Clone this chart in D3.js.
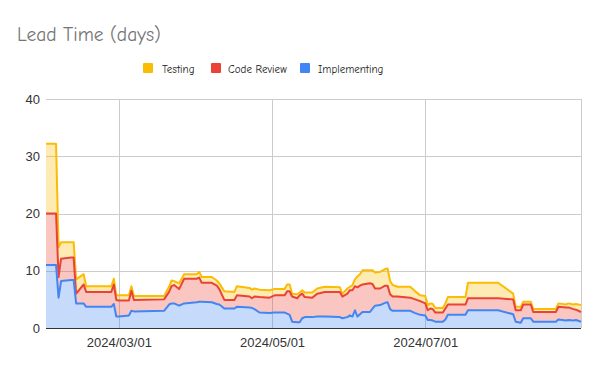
<!DOCTYPE html>
<html>
<head>
<meta charset="utf-8">
<script src="https://cdn.jsdelivr.net/npm/d3@7"></script>
<style>
  html, body { margin: 0; padding: 0; background: #fff; }
  svg { display: block; }
</style>
</head>
<body>
<svg id="chart" width="600" height="371"></svg>
<script>
// ---- Data ----
const dates = [
  "2024-02-01","2024-02-05","2024-02-06","2024-02-07","2024-02-11","2024-02-12","2024-02-13","2024-02-16","2024-02-17",
  "2024-02-27","2024-02-28","2024-02-29","2024-03-01","2024-03-05","2024-03-06","2024-03-07","2024-03-19","2024-03-21",
  "2024-03-22","2024-03-23","2024-03-25","2024-03-27","2024-04-01","2024-04-02","2024-04-03","2024-04-07","2024-04-09",
  "2024-04-10","2024-04-12","2024-04-16","2024-04-17","2024-04-22","2024-04-23","2024-04-24","2024-04-26","2024-04-30",
  "2024-05-02","2024-05-06","2024-05-07","2024-05-08","2024-05-09","2024-05-11","2024-05-12","2024-05-13","2024-05-14",
  "2024-05-17","2024-05-19","2024-05-22","2024-05-28","2024-05-29","2024-05-31","2024-06-01","2024-06-02","2024-06-03",
  "2024-06-04","2024-06-05","2024-06-06","2024-06-09","2024-06-10","2024-06-11","2024-06-13","2024-06-15","2024-06-16",
  "2024-06-17","2024-06-18","2024-06-20","2024-06-25","2024-06-27","2024-06-29","2024-07-01","2024-07-02","2024-07-03",
  "2024-07-04","2024-07-05","2024-07-08","2024-07-09","2024-07-10","2024-07-17","2024-07-18","2024-07-30","2024-08-05",
  "2024-08-06","2024-08-08","2024-08-09","2024-08-12","2024-08-13","2024-08-22","2024-08-23","2024-08-26","2024-08-27",
  "2024-08-29","2024-08-30","2024-09-01"
];
const implementing = [
  11.0,11.0,5.3,8.2,8.4,8.4,4.3,4.3,3.7,
  3.7,4.2,2.0,2.0,2.2,3.0,2.9,3.0,4.1,
  4.3,4.3,3.9,4.3,4.5,4.6,4.6,4.5,4.2,
  4.1,3.4,3.4,3.7,3.6,3.5,3.3,2.7,2.6,
  2.7,2.7,2.5,2.3,1.1,1.0,1.0,1.7,1.9,
  1.9,2.0,2.0,1.9,1.7,1.9,2.2,2.0,3.1,
  2.0,2.4,2.8,2.8,3.4,3.9,4.0,4.4,4.5,
  3.3,3.0,3.0,3.0,2.6,2.3,2.2,1.4,1.4,
  1.3,1.1,1.1,1.5,2.3,2.3,3.1,3.1,2.4,
  1.1,0.9,1.7,1.7,1.1,1.1,1.5,1.3,1.4,
  1.3,1.4,1.1
];
const codeReview = [
  9.0,9.0,3.6,3.9,3.9,3.9,1.7,3.3,2.6,
  2.6,3.4,2.9,2.8,2.6,3.5,2.0,2.0,2.2,
  3.0,3.2,2.9,4.3,4.1,4.2,3.3,3.4,3.2,
  2.7,1.5,1.5,2.0,1.9,1.7,2.2,2.7,2.7,
  3.0,3.0,3.9,4.1,4.4,4.2,4.7,4.3,3.5,
  3.4,4.0,4.3,4.4,3.8,4.1,4.4,4.6,4.2,
  5.1,5.0,4.8,5.0,4.3,3.0,2.9,3.0,2.9,
  2.6,2.5,2.5,2.3,2.4,2.4,2.1,1.7,2.0,
  2.0,1.6,1.6,1.9,1.8,1.8,2.1,2.1,2.6,
  2.0,2.2,2.4,2.4,1.7,1.7,2.2,2.3,2.2,
  2.0,1.8,1.7
];
const testing = [
  12.2,12.2,5.2,2.9,2.7,2.7,2.5,1.8,1.0,
  1.0,1.0,0.8,0.9,0.9,0.8,0.7,0.6,0.9,
  1.0,0.7,1.0,0.8,0.8,1.0,1.0,1.0,0.9,
  1.0,1.5,1.4,1.6,1.5,1.5,1.4,1.3,1.3,
  1.1,1.1,1.2,1.2,0.5,0.7,0.5,0.6,0.8,
  0.9,0.9,0.9,0.8,0.5,0.9,0.6,0.9,1.2,
  1.9,2.0,2.5,2.3,2.4,2.8,2.9,2.9,3.0,
  2.3,2.0,1.7,1.9,1.4,1.0,1.3,0.9,0.9,
  0.9,0.8,0.8,0.9,1.3,1.3,2.7,2.7,1.0,
  0.6,0.6,0.5,0.5,0.5,0.5,0.6,0.5,0.7,
  0.8,1.0,1.2
];
const seriesNames = ["Testing", "Code Review", "Implementing"];
const seriesColors = { "Testing": "#fbbc04", "Code Review": "#ea4335", "Implementing": "#4285f4" };
const yTicks = [0, 10, 20, 30, 40];
const xTickDates = ["2024-03-01", "2024-05-01", "2024-07-01", "2024-09-01"];
const xTickLabels = ["2024/03/01", "2024/05/01", "2024/07/01", ""];
const titleText = "Lead Time (days)";

// ---- Build table ----
const parse = d3.timeParse("%Y-%m-%d");
const rows = dates.map((d, i) => ({
  date: parse(d),
  "Implementing": implementing[i],
  "Code Review": codeReview[i],
  "Testing": testing[i]
}));

const svg = d3.select("#chart");
const pL = 46, pR = 581, pT = 99, pB = 328;

const x = d3.scaleTime()
  .domain([parse("2024-02-01"), parse("2024-09-01")])
  .range([pL, pR]);
const y = d3.scaleLinear().domain([0, 40]).range([pB, pT]);

const comic = "'Comic Sans MS', 'Comic Neue', 'Noto Sans', sans-serif";
const axisFont = "'Liberation Sans', Arial, sans-serif";

// Title
svg.append("text")
  .attr("x", 17).attr("y", 41)
  .attr("font-family", comic)
  .attr("font-size", 19.5)
  .attr("fill", "#757575")
  .text(titleText);

// Gridlines
const grid = svg.append("g");
grid.selectAll("line.h").data(yTicks.filter(t => t > 0)).join("line")
  .attr("class", "h")
  .attr("x1", pL).attr("x2", pR)
  .attr("y1", d => Math.round(y(d)) + 0.5).attr("y2", d => Math.round(y(d)) + 0.5)
  .attr("stroke", "#cccccc").attr("stroke-width", 1);
grid.selectAll("line.v").data(xTickDates).join("line")
  .attr("class", "v")
  .attr("x1", d => Math.round(x(parse(d))) + 0.5).attr("x2", d => Math.round(x(parse(d))) + 0.5)
  .attr("y1", pT).attr("y2", pB)
  .attr("stroke", "#cccccc").attr("stroke-width", 1);

// Stack
const keys = ["Implementing", "Code Review", "Testing"];
const stacked = d3.stack().keys(keys)(rows);

const area = d3.area()
  .x(d => x(d.data.date))
  .y0(d => y(d[0]))
  .y1(d => y(d[1]));
const line = d3.line()
  .x(d => x(d.data.date))
  .y(d => y(d[1]));

svg.append("g").selectAll("path").data(stacked).join("path")
  .attr("d", area)
  .attr("fill", s => seriesColors[s.key])
  .attr("fill-opacity", 0.3)
  .attr("stroke", "none");

svg.append("g").selectAll("path").data(stacked.slice().reverse()).join("path")
  .attr("d", line)
  .attr("fill", "none")
  .attr("stroke", s => seriesColors[s.key])
  .attr("stroke-width", 2)
  .attr("stroke-linejoin", "round");

// Baseline
svg.append("line")
  .attr("x1", pL).attr("x2", pR)
  .attr("y1", pB + 0.5).attr("y2", pB + 0.5)
  .attr("stroke", "#333333").attr("stroke-width", 1);

// Y axis labels
const yAxis = d3.axisLeft(y).tickValues(yTicks).tickSize(0).tickPadding(6);
const yg = svg.append("g").attr("transform", `translate(${pL},0)`).call(yAxis);
yg.select(".domain").remove();
yg.selectAll("text")
  .attr("font-family", axisFont).attr("font-size", 13).attr("fill", "#333333");

// X axis labels
const xAxis = d3.axisBottom(x)
  .tickValues(xTickDates.map(parse))
  .tickFormat((d, i) => xTickLabels[i])
  .tickSize(0).tickPadding(10);
const xg = svg.append("g").attr("transform", `translate(0,${pB})`).call(xAxis);
xg.select(".domain").remove();
xg.selectAll("text")
  .attr("font-family", axisFont).attr("font-size", 13).attr("fill", "#333333");

// Legend
const legendItems = [
  { name: "Testing", sx: 143, tx: 162 },
  { name: "Code Review", sx: 211, tx: 228 },
  { name: "Implementing", sx: 300, tx: 318 }
];
const lg = svg.append("g");
legendItems.forEach(it => {
  lg.append("rect").attr("x", it.sx).attr("y", 63).attr("width", 10).attr("height", 10)
    .attr("rx", 1).attr("fill", seriesColors[it.name]);
  lg.append("text").attr("x", it.tx).attr("y", 73)
    .attr("font-family", comic).attr("font-size", 11).attr("fill", "#222222")
    .text(it.name);
});
</script>
</body>
</html>
